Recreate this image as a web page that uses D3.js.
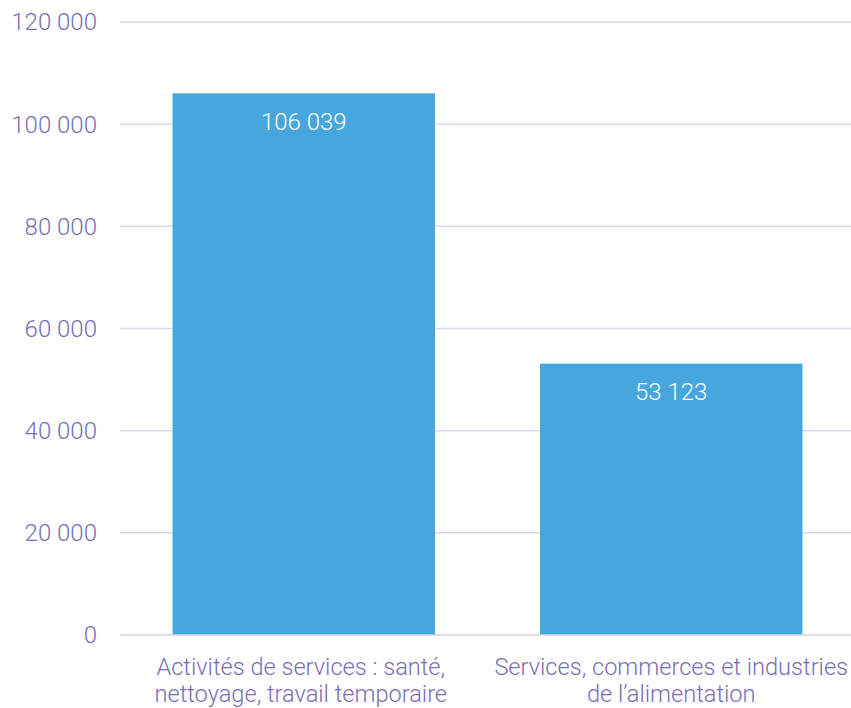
<!DOCTYPE html>
<html><head><meta charset="utf-8">
<script src="https://cdn.jsdelivr.net/npm/d3@7"></script>
<style>body{margin:0;background:#fff;overflow:hidden}svg{display:block}text{font-family:Roboto,"Liberation Sans",Arial,sans-serif;font-weight:300}</style>
</head><body><svg id="c" width="851" height="708"></svg>
<script>
const categories = [["Activités de services : santé,", "nettoyage, travail temporaire"], ["Services, commerces et industries", "de l’alimentation"]];
const values = [106039, 53123];
const valueLabels = ["106 039", "53 123"];
const yTicks = [0, 20000, 40000, 60000, 80000, 100000, 120000];

const svg = d3.select("#c");
const textColor = "#7b6db5";
const x = d3.scaleBand().domain(d3.range(categories.length)).range([120, 855]).paddingInner(0.2857).paddingOuter(0.143);
const y = d3.scaleLinear().domain([0, 120000]).range([635, 22]);
const fmt = v => d3.format(",")(v).replace(/,/g, " ");

const grid = svg.append("g");
grid.selectAll("line").data(yTicks).join("line")
  .attr("x1", 120).attr("x2", 851)
  .attr("y1", d => y(d)).attr("y2", d => y(d))
  .attr("stroke", "#dcd8ea").attr("stroke-width", 1.5);
grid.selectAll("text").data(yTicks).join("text")
  .attr("x", 97).attr("y", d => y(d)).attr("dy", "0.35em")
  .attr("text-anchor", "end").attr("fill", textColor).attr("font-size", 24)
  .text(fmt);

svg.append("g").selectAll("rect").data(values).join("rect")
  .attr("x", (d, i) => x(i)).attr("width", x.bandwidth())
  .attr("y", d => y(d)).attr("height", d => y(0) - y(d))
  .attr("fill", "#48a6de");

svg.append("line").attr("x1", 120).attr("x2", 851).attr("y1", y(0)).attr("y2", y(0))
  .attr("stroke", "#dcd8ea").attr("stroke-width", 1.5);

svg.append("g").selectAll("text").data(values).join("text")
  .attr("x", (d, i) => x(i) + x.bandwidth() / 2).attr("y", d => y(d) + 28)
  .attr("dy", "0.35em").attr("text-anchor", "middle").attr("fill", "#fff").attr("font-size", 24)
  .text((d, i) => valueLabels[i]);

const cl = svg.append("g").selectAll("text").data(categories).join("text")
  .attr("text-anchor", "middle").attr("fill", textColor).attr("font-size", 23.6);
cl.selectAll("tspan").data((d, i) => d.map(s => ({s, i}))).join("tspan")
  .attr("x", d => x(d.i) + x.bandwidth() / 2 - (d.i === 0 ? 3 : 0))
  .attr("y", (d, j) => 675 + j * 27)
  .text(d => d.s);
</script></body></html>
